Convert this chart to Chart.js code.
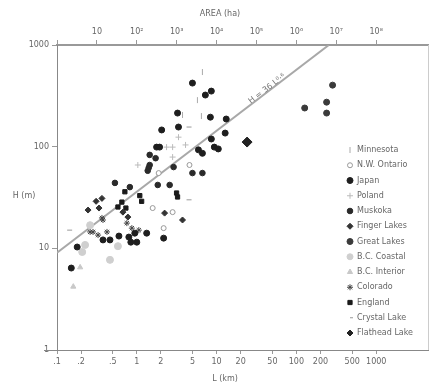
<!DOCTYPE html>
<html>
<head>
  <meta charset="UTF-8">
  <title>Lake depth vs length</title>
  <style>
    body { margin: 0; background: #fff; }
    #chart { display: block; }
  </style>
  <script src="https://cdn.jsdelivr.net/npm/chart.js"></script>
</head>
<body>
  <canvas id="chart" width="434" height="390"></canvas>
  <script>
  // axis ticks
  const lengthTicks = [0.1, 0.2, 0.5, 1, 2, 5, 10, 20, 50, 100, 200, 500, 1000];
  const lengthLabels = ['.1', '.2', '.5', '1', '2', '5', '10', '20', '50', '100', '200', '500', '1000'];
  const areaTicks = [1, 1e1, 1e2, 1e3, 1e4, 1e5, 1e6, 1e7, 1e8];
  const areaLabels = ['', '10', '10²', '10³', '10⁴', '10⁵', '10⁶', '10⁷', '10⁸'];
  const depthTicks = [1, 10, 100, 1000];
  const depthLabels = ['1', '10', '100', '1000'];

  // fitted line H = a * L^b
  const fitA = 36;
  const fitB = 0.6;
  const fitRange = [0.1, 255];

  // series: L (km) and H (m)
  const minnesotaL = [6.64, 5.75, 3.74, 6.45];
  const minnesotaH = [542, 287, 205, 200];
  const ontarioL = [4.57, 1.88, 1.58, 2.81, 2.17];
  const ontarioH = [66, 55, 24.9, 22.7, 15.8];
  const japanL = [4.98, 8.59, 7.23, 3.24, 8.35, 13.2, 2.05, 3.33, 8.59, 12.8, 1.77, 1.93, 9.36, 10.5, 5.92, 6.64,
                  0.377, 0.461, 0.597, 0.795, 0.944, 1.33, 2.17, 0.842, 1.0, 0.179, 0.151];
  const japanH = [422, 352, 322, 214, 195, 187, 146, 156, 119, 136, 99, 99, 99, 95, 93, 86,
                  12.1, 12.1, 13.2, 12.9, 14.1, 14.1, 12.6, 11.5, 11.5, 10.3, 6.4];
  const polandL = [3.33, 2.36, 2.81, 4.08, 2.81, 1.03];
  const polandH = [124, 99, 99, 104, 79, 66];
  const muskokaL = [1.45, 1.72, 1.45, 1.41, 2.89, 1.37, 4.98, 6.64, 0.532, 0.818, 1.83, 2.58];
  const muskokaH = [83, 77, 66, 62, 63, 58, 55, 55, 44, 40, 42, 42];
  const fingerL = [0.309, 0.366, 0.245, 0.336, 0.67, 0.773, 2.23, 3.74];
  const fingerH = [29, 31, 23.8, 24.9, 22.7, 20.3, 22.2, 19.0];
  const greatL = [127, 239, 239, 284];
  const greatH = [240, 274, 214, 403];
  const bcCoastL = [0.26, 0.225, 0.207, 0.58, 0.461];
  const bcCoastH = [16.9, 10.8, 9.2, 10.5, 7.7];
  const bcInteriorL = [0.195, 0.16];
  const bcInteriorH = [6.5, 4.2];
  const coloradoL = [0.366, 0.377, 0.75, 0.867, 1.06, 0.26, 0.283, 0.327, 0.423];
  const coloradoH = [19.9, 19.0, 17.7, 15.8, 15.1, 14.5, 14.5, 13.5, 14.5];
  const englandL = [0.709, 1.09, 1.15, 3.15, 3.24, 0.65, 0.58, 0.73];
  const englandH = [36, 33, 29, 35, 32, 28.5, 25.5, 24.9];
  const crystalL = [4.2, 4.2, 0.134];
  const crystalH = [156, 30, 15.1];
  const flatheadL = [24.1];
  const flatheadH = [111];

  function pts(ls, hs) {
    return ls.map((l, i) => ({ x: l, y: hs[i] }));
  }

  function series(label, ls, hs, style, fill, stroke, radius, rotation) {
    return {
      type: 'scatter',
      label: label,
      data: pts(ls, hs),
      pointStyle: style,
      backgroundColor: fill,
      borderColor: stroke,
      borderWidth: 1,
      pointRadius: radius,
      rotation: rotation || 0
    };
  }

  const datasets = [
    series('Minnesota', minnesotaL, minnesotaH, 'line', '#aaa', '#aaa', 3, 90),
    series('N.W. Ontario', ontarioL, ontarioH, 'circle', '#fff', '#999', 2.5),
    series('Japan', japanL, japanH, 'circle', '#1e1e1e', '#1e1e1e', 3),
    series('Poland', polandL, polandH, 'cross', '#bbb', '#bbb', 3),
    series('Muskoka', muskokaL, muskokaH, 'circle', '#2a2a2a', '#2a2a2a', 2.8),
    series('Finger Lakes', fingerL, fingerH, 'rectRot', '#333', '#333', 3),
    series('Great Lakes', greatL, greatH, 'circle', '#3a3a3a', '#3a3a3a', 3),
    series('B.C. Coastal', bcCoastL, bcCoastH, 'circle', '#cfcfcf', '#cfcfcf', 3.5),
    series('B.C. Interior', bcInteriorL, bcInteriorH, 'triangle', '#c8c8c8', '#c8c8c8', 3),
    series('Colorado', coloradoL, coloradoH, 'star', '#444', '#444', 3),
    series('England', englandL, englandH, 'rect', '#1a1a1a', '#1a1a1a', 3),
    series('Crystal Lake', crystalL, crystalH, 'dash', '#999', '#999', 5),
    series('Flathead Lake', flatheadL, flatheadH, 'rectRot', '#222', '#222', 5)
  ];

  // regression line from the equation
  datasets.push({
    type: 'line',
    label: 'fit',
    data: fitRange.map(l => ({ x: l, y: fitA * Math.pow(l, fitB) })),
    borderColor: '#a8a8a8',
    borderWidth: 2,
    pointRadius: 0,
    showLine: true,
    fill: false
  });

  const tickFont = { family: 'DejaVu Sans', size: 8 };
  const textColor = '#666';

  function fixTicks(values) {
    return function (scale) {
      scale.ticks = values.map(v => ({ value: v }));
    };
  }

  const decor = {
    id: 'decor',
    afterDraw(chart) {
      const ctx = chart.ctx;
      const a = chart.chartArea;
      const xs = chart.scales.x;
      const ys = chart.scales.y;
      ctx.save();

      // right border and bottom axis stub
      ctx.strokeStyle = '#ccc';
      ctx.lineWidth = 1;
      ctx.beginPath();
      ctx.moveTo(a.right + 0.5, a.top);
      ctx.lineTo(a.right + 0.5, a.bottom);
      ctx.stroke();
      ctx.strokeStyle = '#888';
      ctx.beginPath();
      ctx.moveTo(44, a.bottom + 0.5);
      ctx.lineTo(a.left, a.bottom + 0.5);
      ctx.stroke();

      // titles
      ctx.fillStyle = textColor;
      ctx.font = '8px "DejaVu Sans"';
      ctx.textAlign = 'center';
      ctx.textBaseline = 'middle';
      ctx.fillText('AREA (ha)', 220, 14);
      ctx.fillText('L (km)', 225, 379);
      ctx.fillText('H (m)', 24, 196);

      // equation along the fit line
      const x1 = xs.getPixelForValue(fitRange[0]);
      const y1 = ys.getPixelForValue(fitA * Math.pow(fitRange[0], fitB));
      const x2 = xs.getPixelForValue(fitRange[1]);
      const y2 = ys.getPixelForValue(fitA * Math.pow(fitRange[1], fitB));
      const ang = Math.atan2(y2 - y1, x2 - x1);
      const lx = xs.getPixelForValue(36);
      const ly = ys.getPixelForValue(fitA * Math.pow(36, fitB));
      ctx.translate(lx + 6, ly - 8);
      ctx.rotate(ang);
      ctx.fillStyle = '#777';
      ctx.fillText('H = 36 L⁰·⁶', 0, 0);
      ctx.setTransform(1, 0, 0, 1, 0, 0);

      // legend
      const scatter = chart.data.datasets.filter(d => d.type === 'scatter');
      ctx.textAlign = 'left';
      ctx.font = '8px "DejaVu Sans"';
      scatter.forEach((d, i) => {
        const y = 150 + i * 15.25;
        ctx.fillStyle = d.backgroundColor;
        ctx.strokeStyle = d.borderColor;
        ctx.lineWidth = 1;
        if (Chart.helpers && Chart.helpers.drawPoint) {
          Chart.helpers.drawPoint(ctx, {
            pointStyle: d.pointStyle,
            radius: Math.min(d.pointRadius, 3),
            rotation: d.rotation,
            borderWidth: 1
          }, 350, y);
        } else {
          ctx.beginPath();
          ctx.arc(350, y, 2.5, 0, Math.PI * 2);
          ctx.fill();
        }
        ctx.fillStyle = textColor;
        ctx.fillText(d.label, 357, y);
      });
      ctx.restore();
    }
  };

  new Chart(document.getElementById('chart'), {
    type: 'scatter',
    data: { datasets: datasets },
    plugins: [decor],
    options: {
      responsive: false,
      animation: false,
      devicePixelRatio: 1,
      layout: { padding: { left: 0, right: 4, top: 0, bottom: 0 } },
      plugins: {
        legend: { display: false },
        tooltip: { enabled: false }
      },
      scales: {
        x: {
          type: 'logarithmic',
          position: 'bottom',
          min: 0.1,
          max: 4455,
          afterBuildTicks: fixTicks(lengthTicks),
          afterFit: s => { s.height = 40; },
          ticks: {
            autoSkip: false,
            maxRotation: 0,
            padding: 3,
            font: tickFont,
            color: textColor,
            callback: (v, i) => lengthLabels[i]
          },
          grid: { drawOnChartArea: false, tickLength: 4, color: '#999' },
          border: { color: '#888', width: 1 }
        },
        xTop: {
          type: 'logarithmic',
          position: 'top',
          min: 1,
          max: 100 * 4455 * 4455,
          afterBuildTicks: fixTicks(areaTicks),
          afterFit: s => { s.height = 45; },
          ticks: {
            autoSkip: false,
            maxRotation: 0,
            padding: 3,
            font: tickFont,
            color: textColor,
            callback: (v, i) => areaLabels[i]
          },
          grid: { drawOnChartArea: false, tickLength: 5, color: '#999' },
          border: { color: '#999', width: 2 }
        },
        y: {
          type: 'logarithmic',
          min: 1,
          max: 1000,
          afterBuildTicks: fixTicks(depthTicks),
          afterFit: s => { s.width = 57; },
          ticks: {
            autoSkip: false,
            padding: 3,
            font: tickFont,
            color: textColor,
            callback: (v, i) => depthLabels[i]
          },
          grid: { drawOnChartArea: false, tickLength: 5, color: '#999' },
          border: { color: '#888', width: 1 }
        }
      }
    }
  });
  </script>
</body>
</html>
